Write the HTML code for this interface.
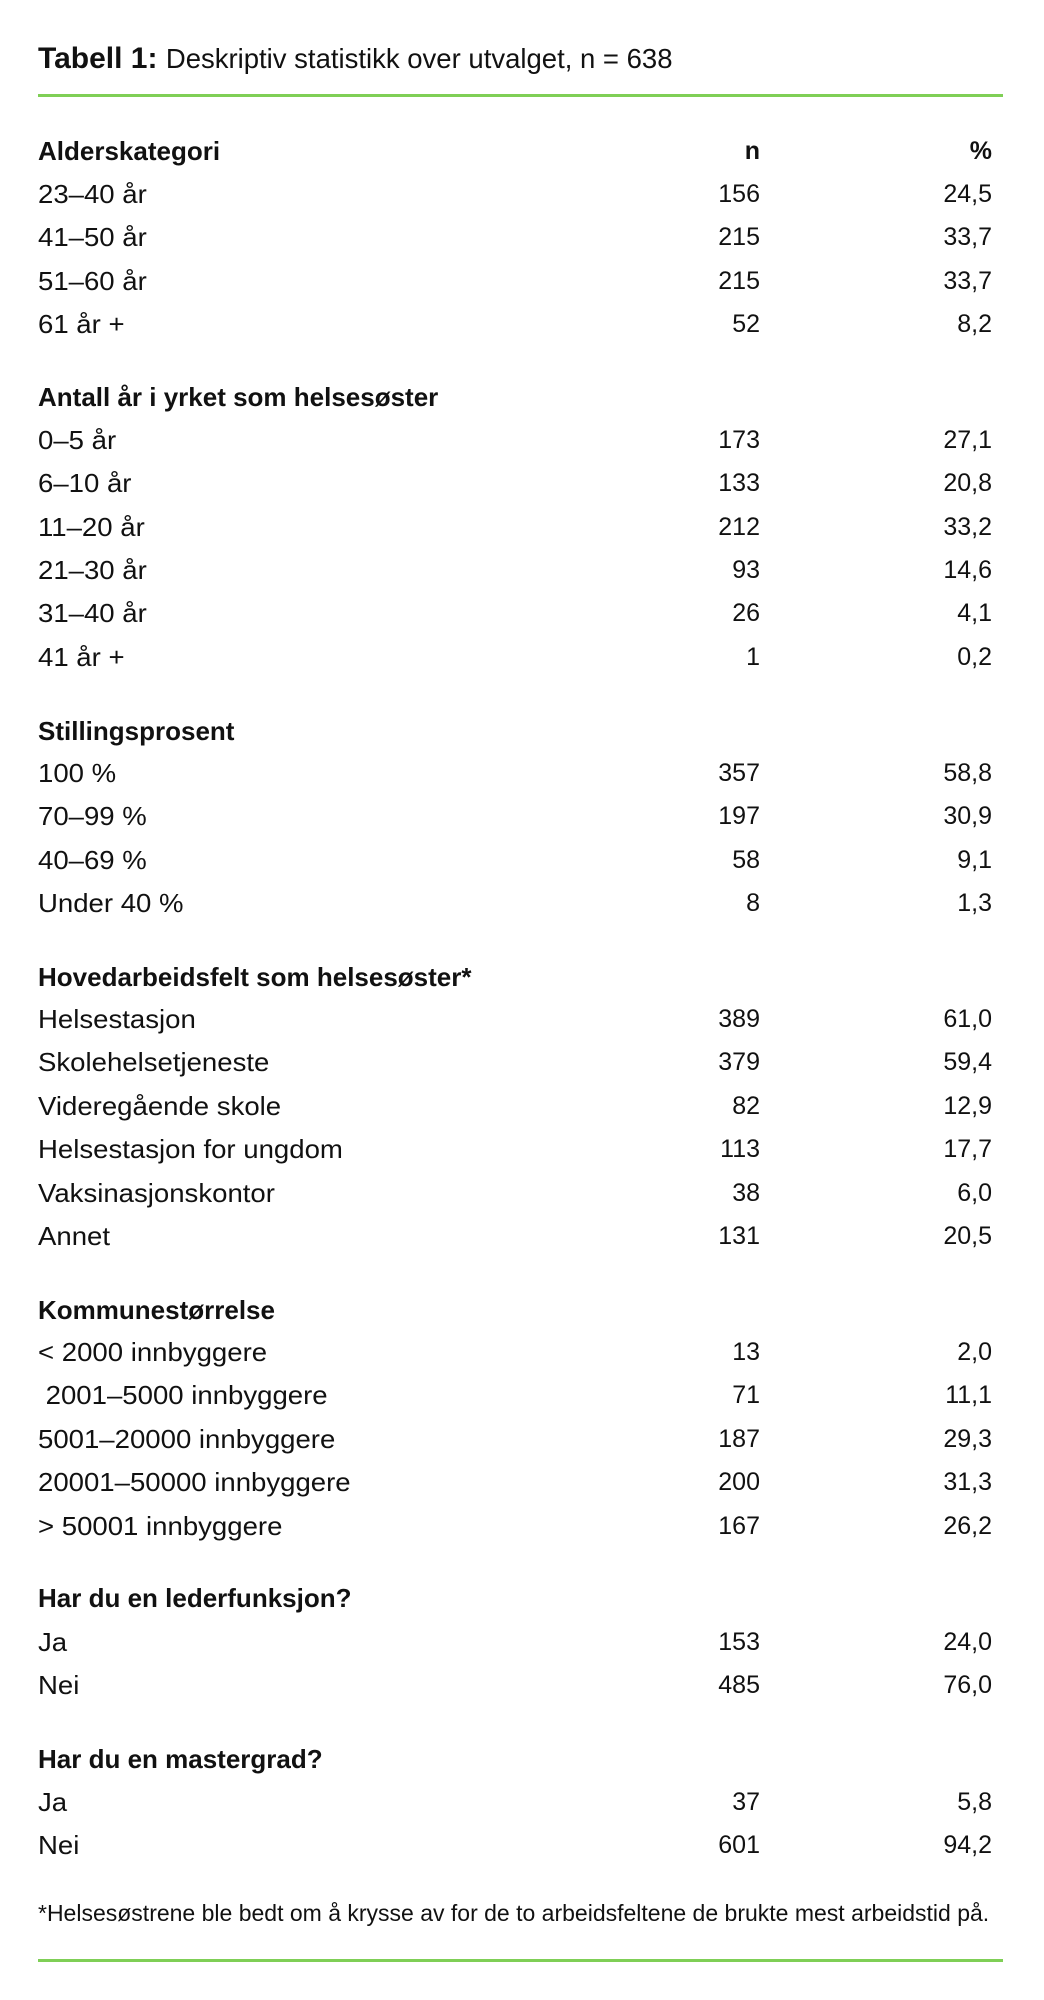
<!DOCTYPE html>
<html><head><meta charset="utf-8">
<style>
html,body{margin:0;padding:0;background:#fff;}
body{width:1044px;height:2000px;position:relative;overflow:hidden;font-family:"Liberation Sans",sans-serif;color:#111;}
.r{position:absolute;left:0;width:1044px;height:30px;line-height:30px;font-size:26px;}
.l{position:absolute;left:38px;top:0;white-space:nowrap;transform:scaleX(1.06);transform-origin:left center;}
.l.b{transform:scaleX(1.0);}
.n{position:absolute;right:284px;top:0;white-space:nowrap;font-size:25px;}
.p{position:absolute;right:52px;top:0;white-space:nowrap;font-size:25px;}
.b{font-weight:bold;}
.g{position:absolute;left:38px;width:965px;height:3px;background:#7fcf56;}
</style></head><body>
<div class="r" style="top:39px;height:40px;line-height:40px;font-size:30px;"><span class="l" style="transform:none"><b>Tabell 1:</b> <span style="font-size:27.5px">Deskriptiv statistikk over utvalget, n = 638</span></span></div>
<div class="g" style="top:94px"></div>

<div class="r" style="top:136px"><span class="l b">Alderskategori</span><span class="n b">n</span><span class="p b">%</span></div>
<div class="r" style="top:179px"><span class="l">23–40 år</span><span class="n">156</span><span class="p">24,5</span></div>
<div class="r" style="top:222px"><span class="l">41–50 år</span><span class="n">215</span><span class="p">33,7</span></div>
<div class="r" style="top:266px"><span class="l">51–60 år</span><span class="n">215</span><span class="p">33,7</span></div>
<div class="r" style="top:309px"><span class="l">61 år +</span><span class="n">52</span><span class="p">8,2</span></div>

<div class="r" style="top:382px"><span class="l b">Antall år i yrket som helsesøster</span></div>
<div class="r" style="top:425px"><span class="l">0–5 år</span><span class="n">173</span><span class="p">27,1</span></div>
<div class="r" style="top:468px"><span class="l">6–10 år</span><span class="n">133</span><span class="p">20,8</span></div>
<div class="r" style="top:512px"><span class="l">11–20 år</span><span class="n">212</span><span class="p">33,2</span></div>
<div class="r" style="top:555px"><span class="l">21–30 år</span><span class="n">93</span><span class="p">14,6</span></div>
<div class="r" style="top:598px"><span class="l">31–40 år</span><span class="n">26</span><span class="p">4,1</span></div>
<div class="r" style="top:642px"><span class="l">41 år +</span><span class="n">1</span><span class="p">0,2</span></div>

<div class="r" style="top:716px"><span class="l b">Stillingsprosent</span></div>
<div class="r" style="top:758px"><span class="l">100 %</span><span class="n">357</span><span class="p">58,8</span></div>
<div class="r" style="top:801px"><span class="l">70–99 %</span><span class="n">197</span><span class="p">30,9</span></div>
<div class="r" style="top:845px"><span class="l">40–69 %</span><span class="n">58</span><span class="p">9,1</span></div>
<div class="r" style="top:888px"><span class="l">Under 40 %</span><span class="n">8</span><span class="p">1,3</span></div>

<div class="r" style="top:962px"><span class="l b">Hovedarbeidsfelt som helsesøster*</span></div>
<div class="r" style="top:1004px"><span class="l">Helsestasjon</span><span class="n">389</span><span class="p">61,0</span></div>
<div class="r" style="top:1047px"><span class="l">Skolehelsetjeneste</span><span class="n">379</span><span class="p">59,4</span></div>
<div class="r" style="top:1091px"><span class="l">Videregående skole</span><span class="n">82</span><span class="p">12,9</span></div>
<div class="r" style="top:1134px"><span class="l">Helsestasjon for ungdom</span><span class="n">113</span><span class="p">17,7</span></div>
<div class="r" style="top:1178px"><span class="l">Vaksinasjonskontor</span><span class="n">38</span><span class="p">6,0</span></div>
<div class="r" style="top:1221px"><span class="l">Annet</span><span class="n">131</span><span class="p">20,5</span></div>

<div class="r" style="top:1295px"><span class="l b">Kommunestørrelse</span></div>
<div class="r" style="top:1337px"><span class="l">&lt; 2000 innbyggere</span><span class="n">13</span><span class="p">2,0</span></div>
<div class="r" style="top:1380px"><span class="l">&nbsp;2001–5000 innbyggere</span><span class="n">71</span><span class="p">11,1</span></div>
<div class="r" style="top:1424px"><span class="l">5001–20000 innbyggere</span><span class="n">187</span><span class="p">29,3</span></div>
<div class="r" style="top:1467px"><span class="l">20001–50000 innbyggere</span><span class="n">200</span><span class="p">31,3</span></div>
<div class="r" style="top:1511px"><span class="l">&gt; 50001 innbyggere</span><span class="n">167</span><span class="p">26,2</span></div>

<div class="r" style="top:1583px"><span class="l b">Har du en lederfunksjon?</span></div>
<div class="r" style="top:1627px"><span class="l">Ja</span><span class="n">153</span><span class="p">24,0</span></div>
<div class="r" style="top:1670px"><span class="l">Nei</span><span class="n">485</span><span class="p">76,0</span></div>

<div class="r" style="top:1744px"><span class="l b">Har du en mastergrad?</span></div>
<div class="r" style="top:1787px"><span class="l">Ja</span><span class="n">37</span><span class="p">5,8</span></div>
<div class="r" style="top:1830px"><span class="l">Nei</span><span class="n">601</span><span class="p">94,2</span></div>

<div class="r" style="top:1898px;font-size:23px"><span class="l" style="transform:none">*Helsesøstrene ble bedt om å krysse av for de to arbeidsfeltene de brukte mest arbeidstid på.</span></div>
<div class="g" style="top:1959px"></div>
</body></html>
